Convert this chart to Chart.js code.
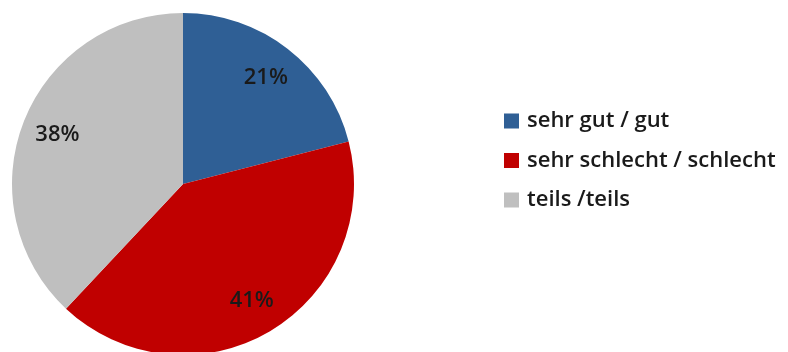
<!DOCTYPE html>
<html><head><meta charset="utf-8">
<script src="https://cdn.jsdelivr.net/npm/chart.js@4/dist/chart.umd.min.js"></script>
<style>
html,body{margin:0;padding:0;background:#fff;overflow:hidden;width:788px;height:352px}
#wrap{position:absolute;left:0;top:0;width:788px;height:360px}
</style></head>
<body>
<div id="wrap"><canvas id="c"></canvas></div>
<script>
const categories = ["sehr gut / gut", "sehr schlecht / schlecht", "teils /teils"];
const values = [21, 41, 38];
const colors = ["#2F5F95", "#C00000", "#BFBFBF"];
const FONT = "'Open Sans', Lato, sans-serif";

const labelPlugin = {
  id: 'sliceLabels',
  afterDatasetsDraw(chart) {
    const ctx = chart.ctx;
    const meta = chart.getDatasetMeta(0);
    ctx.save();
    ctx.font = "600 22px " + FONT;
    ctx.fillStyle = "#1a1a1a";
    ctx.textAlign = "center";
    ctx.textBaseline = "middle";
    meta.data.forEach((arc, i) => {
      const mid = (arc.startAngle + arc.endAngle) / 2;
      const r = arc.outerRadius * 0.79;
      const x = arc.x + Math.cos(mid) * r;
      const y = arc.y + Math.sin(mid) * r;
      ctx.fillText(values[i] + "%", x, y);
    });
    ctx.restore();
  }
};

const legendPlugin = {
  id: 'customLegend',
  afterDraw(chart) {
    const ctx = chart.ctx;
    ctx.save();
    ctx.font = "600 22px " + FONT;
    ctx.textBaseline = "middle";
    ctx.textAlign = "left";
    categories.forEach((c, i) => {
      const y = 121 + i * 39.5;
      ctx.fillStyle = colors[i];
      ctx.fillRect(504, y - 7.5, 15, 15);
      ctx.fillStyle = "#1a1a1a";
      ctx.fillText(c, 527, y);
    });
    ctx.restore();
  }
};

new Chart(document.getElementById('c'), {
  type: 'pie',
  data: {
    labels: categories,
    datasets: [{ data: values, backgroundColor: colors, borderWidth: 0 }]
  },
  options: {
    responsive: true,
    maintainAspectRatio: false,
    animation: false,
    layout: { padding: { left: 12, right: 434, top: 13, bottom: 5 } },
    plugins: { legend: { display: false }, tooltip: { enabled: false } }
  },
  plugins: [labelPlugin, legendPlugin]
});
</script>
</body></html>
